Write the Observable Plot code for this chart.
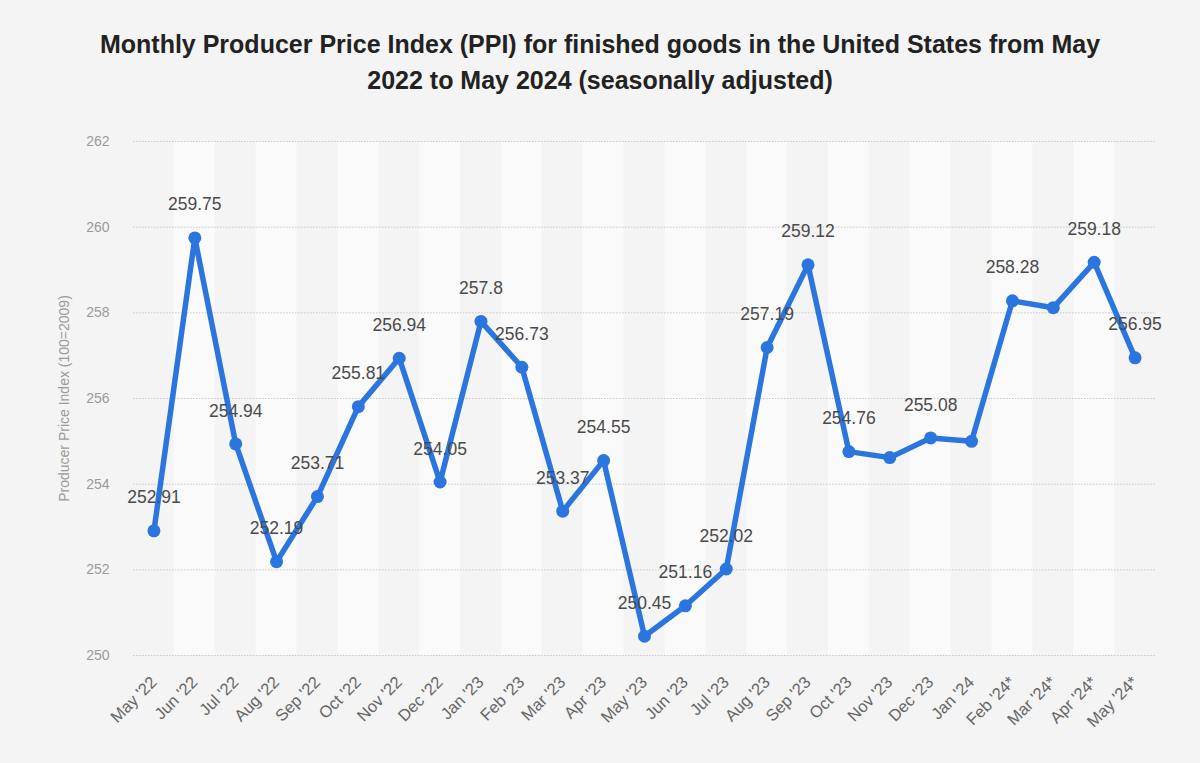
<!DOCTYPE html>
<html>
<head>
<meta charset="utf-8">
<script src="https://cdn.jsdelivr.net/npm/d3@7"></script>
<script src="https://cdn.jsdelivr.net/npm/@observablehq/plot@0.6"></script>
<style>
  html, body { margin: 0; padding: 0; background: #f4f4f4; }
  body { width: 1200px; height: 763px; overflow: hidden; font-family: "Liberation Sans", Arial, sans-serif; }
  #title { height: 120px; box-sizing: border-box; padding-top: 26px; text-align: center; font-weight: bold; font-size: 25px; line-height: 36px; color: #222; }
  #chart svg { display: block; }
</style>
</head>
<body>
<div id="title">Monthly Producer Price Index (PPI) for finished goods in the United States from May<br>2022 to May 2024 (seasonally adjusted)</div>
<div id="chart"></div>
<script>
const months = ["May '22","Jun '22","Jul '22","Aug '22","Sep '22","Oct '22","Nov '22","Dec '22","Jan '23","Feb '23","Mar '23","Apr '23","May '23","Jun '23","Jul '23","Aug '23","Sep '23","Oct '23","Nov '23","Dec '23","Jan '24","Feb '24*","Mar '24*","Apr '24*","May '24*"];
const values = [252.91,259.75,254.94,252.19,253.71,255.81,256.94,254.05,257.8,256.73,253.37,254.55,250.45,251.16,252.02,257.19,259.12,254.76,254.62,255.08,255.0,258.28,258.12,259.18,256.95];
const labelShown = [true,true,true,true,true,true,true,true,true,true,true,true,true,true,true,true,true,true,false,true,false,true,false,true,true];
const yTicks = [250,252,254,256,258,260,262];

const data = months.map((m, i) => ({month: m, value: values[i], show: labelShown[i], idx: i}));
const bands = data.filter(d => d.idx % 2 === 1);

const chart = Plot.plot({
  width: 1200,
  height: 643,
  marginTop: 21,
  marginBottom: 108,
  marginLeft: 133,
  marginRight: 45,
  style: {background: "transparent", fontFamily: "'Liberation Sans', Arial, sans-serif"},
  x: {type: "band", domain: months, padding: 0, round: false, label: null},
  y: {domain: [250, 262], label: null},
  marks: [
    Plot.barY(bands, {x: "month", y1: 250, y2: 262, fill: "#fafafa", inset: 0}),
    Plot.ruleY(yTicks, {stroke: "#c8c8c8", strokeDasharray: "1.5,1.5", strokeWidth: 1}),
    Plot.axisY({ticks: yTicks, tickSize: 0, tickPadding: 24, fill: "#9a9a9a", fontSize: 14, label: "Producer Price Index (100=2009)", labelAnchor: "center", labelArrow: "none", labelOffset: 74}),
    Plot.axisX({tickSize: 0, tickRotate: -45, tickPadding: 24, fill: "#666", fontSize: 16.5, label: null}),
    Plot.line(data, {x: "month", y: "value", stroke: "#2b76de", strokeWidth: 5.5, strokeLinejoin: "round", strokeLinecap: "round"}),
    Plot.dot(data, {x: "month", y: "value", fill: "#2b76de", r: 6.5}),
    Plot.text(data.filter(d => d.show), {x: "month", y: "value", text: d => String(d.value), dy: -33, fontSize: 17.5, fill: "#4a4a4a"})
  ]
});
document.getElementById("chart").appendChild(chart);
</script>
</body>
</html>
